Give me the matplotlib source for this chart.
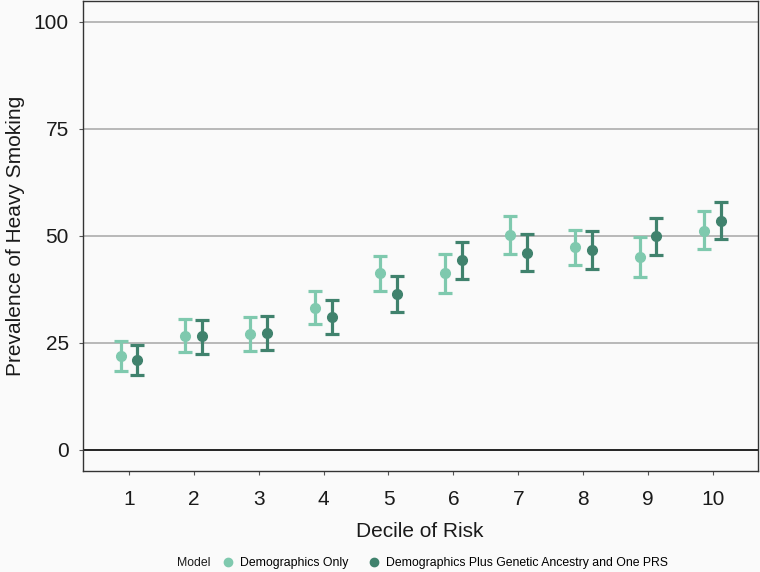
import matplotlib
matplotlib.use('Agg')
import matplotlib.pyplot as plt
from matplotlib.lines import Line2D
import numpy as np

plt.rcParams['font.family'] = ['Liberation Sans', 'DejaVu Sans']

# Werte
deciles = [1, 2, 3, 4, 5, 6, 7, 8, 9, 10]
demo_mean = [22.0, 26.6, 27.1, 33.2, 41.2, 41.2, 50.2, 47.3, 45.1, 51.2]
demo_low = [18.5, 22.9, 23.1, 29.5, 37.1, 36.6, 45.7, 43.2, 40.4, 46.8]
demo_high = [25.5, 30.5, 31.1, 37.1, 45.2, 45.8, 54.6, 51.3, 49.7, 55.7]
prs_mean = [20.9, 26.5, 27.3, 31.1, 36.4, 44.3, 45.9, 46.6, 49.9, 53.4]
prs_low = [17.4, 22.5, 23.4, 27.0, 32.3, 39.9, 41.7, 42.3, 45.5, 49.2]
prs_high = [24.5, 30.3, 31.3, 35.1, 40.7, 48.6, 50.3, 51.0, 54.2, 57.8]

labels = ['Demographics Only', 'Demographics Plus Genetic Ancestry and One PRS']
colors = ['#7fc9ae', '#40826d']
bg = '#fafafa'

fig = plt.figure(figsize=(7.6, 5.72), dpi=100, facecolor=bg)
ax = fig.add_axes([0.1088, 0.1766, 0.888, 0.8224], facecolor=bg)

x = np.array(deciles)
dodge = 0.13
series = [(demo_mean, demo_low, demo_high), (prs_mean, prs_low, prs_high)]
for i, (m, lo, hi) in enumerate(series):
    m = np.array(m)
    err = [m - np.array(lo), np.array(hi) - m]
    ax.errorbar(x + (i * 2 - 1) * dodge, m, yerr=err, fmt='o', color=colors[i],
                markersize=7, elinewidth=2.3, capsize=5, capthick=2.3, zorder=3)

# Gitterlinien
for yv in [25, 50, 75, 100]:
    ax.axhline(yv, color='#b3b3b3', lw=1.3, zorder=1)
ax.axhline(0, color='black', lw=1.2, zorder=1)

ax.set_xlim(0.286, 10.69)
ax.set_ylim(-4.9, 104.9)
ax.set_xticks(deciles)
ax.set_yticks([0, 25, 50, 75, 100])
ax.tick_params(axis='both', labelsize=15, length=3, color='#555555', labelcolor='#1a1a1a')
ax.tick_params(axis='x', pad=11)
ax.tick_params(axis='y', pad=7)
for s in ax.spines.values():
    s.set_color('#333333')
    s.set_linewidth(1)

ax.set_xlabel('Decile of Risk', fontsize=15, labelpad=9, color='#1a1a1a')
ax.set_ylabel('Prevalence of Heavy Smoking', fontsize=15, labelpad=6, color='#1a1a1a')

# Legende
fig.text(177 / 760, 1 - 563 / 572, 'Model', fontsize=8.8, va='center', ha='left', color='#1a1a1a')
handles = [Line2D([], [], marker='o', ls='none', color=c, markersize=6) for c in colors]
fig.legend(handles, labels, loc='center left', bbox_to_anchor=(222 / 760, 1 - 563 / 572),
           ncol=2, frameon=False, fontsize=8.8, handletextpad=0.5, columnspacing=1.55,
           handlelength=1.0, borderaxespad=0, borderpad=0)

fig.savefig('out.png', dpi=100, facecolor=bg)
